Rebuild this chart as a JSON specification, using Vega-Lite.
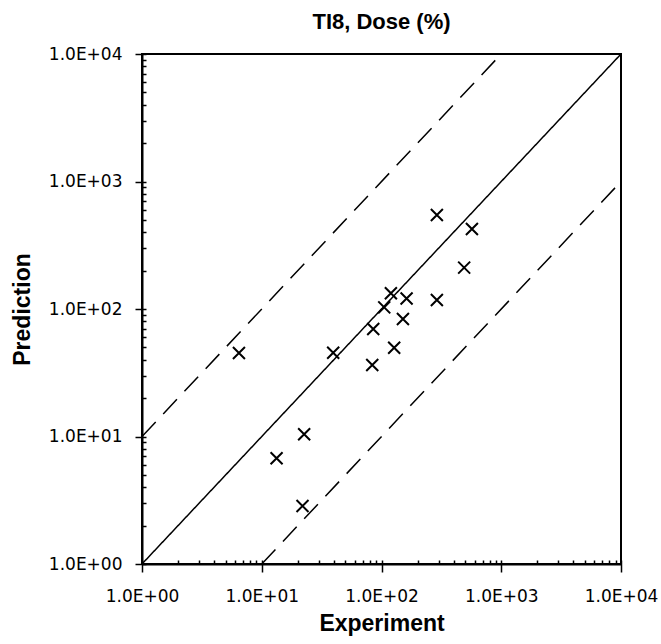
{
  "$schema": "https://vega.github.io/schema/vega-lite/v6.json",
  "width": 479,
  "height": 510,
  "autosize": {"type": "none"},
  "padding": {"left": 142, "top": 54, "right": 40, "bottom": 80},
  "title": {
    "text": "TI8, Dose (%)",
    "font": "Liberation Sans",
    "fontSize": 22,
    "fontWeight": "bold",
    "color": "black",
    "anchor": "middle",
    "offset": 11
  },
  "config": {
    "view": {"stroke": "black", "strokeWidth": 2},
    "font": "Liberation Sans",
    "axis": {"grid": false, "labelColor": "black", "titleColor": "black", "tickColor": "black", "domainColor": "black", "labelFont": "DejaVu Sans", "titleFont": "Liberation Sans"}
  },
  "datasets": {
    "lines": [
      {"series": "equal", "x": 1, "y": 1},
      {"series": "equal", "x": 10000, "y": 10000},
      {"series": "upper", "x": 1, "y": 10},
      {"series": "upper", "x": 1000, "y": 10000},
      {"series": "lower", "x": 10, "y": 1},
      {"series": "lower", "x": 10000, "y": 1000}
    ],
    "pts": [
      {"x": 6.45, "y": 45.2},
      {"x": 13.3, "y": 6.75},
      {"x": 22.6, "y": 10.4},
      {"x": 21.9, "y": 2.85},
      {"x": 39.5, "y": 45.4},
      {"x": 83.7, "y": 36.4},
      {"x": 85.3, "y": 69.7},
      {"x": 127.6, "y": 49.7},
      {"x": 105.4, "y": 103},
      {"x": 119.8, "y": 132.8},
      {"x": 151, "y": 83.5},
      {"x": 162, "y": 121},
      {"x": 290, "y": 117.7},
      {"x": 490, "y": 211},
      {"x": 290, "y": 546},
      {"x": 569, "y": 424}
    ]
  },
  "layer": [
    {
      "data": {"name": "lines"},
      "mark": {"type": "line", "color": "black", "strokeWidth": 1.5, "clip": true},
      "encoding": {
        "x": {
          "field": "x", "type": "quantitative",
          "scale": {"type": "log", "domain": [1, 10000]},
          "axis": {
            "orient": "bottom",
            "values": [1, 10, 100, 1000, 10000],
            "labelExpr": "replace(format(datum.value, '.1e'), 'e+', 'E+0')",
            "labelFlush": false,
            "labelOverlap": false,
            "labelFontSize": 17,
            "labelPadding": 16,
            "tickSize": 8,
            "tickWidth": 1.5,
            "domainWidth": 2,
            "title": "Experiment",
            "titleFontSize": 23,
            "titleFontWeight": "bold",
            "titlePadding": 8
          }
        },
        "y": {
          "field": "y", "type": "quantitative",
          "scale": {"type": "log", "domain": [1, 10000]},
          "axis": {
            "orient": "left",
            "values": [1, 10, 100, 1000, 10000],
            "labelExpr": "replace(format(datum.value, '.1e'), 'e+', 'E+0')",
            "labelFlush": false,
            "labelOverlap": false,
            "labelFontSize": 17,
            "labelPadding": 13,
            "tickSize": 7,
            "tickWidth": 1.5,
            "domainWidth": 2,
            "title": "Prediction",
            "titleFontSize": 23,
            "titleFontWeight": "bold",
            "titlePadding": 14
          }
        },
        "strokeDash": {
          "field": "series", "type": "nominal",
          "scale": {"domain": ["equal", "upper", "lower"], "range": [[1, 0], [20, 11], [20, 11]]},
          "legend": null
        }
      }
    },
    {
      "data": {"name": "pts"},
      "mark": {"type": "point", "shape": "M-1,-1L1,1M-1,1L1,-1", "size": 144, "strokeWidth": 2, "color": "black", "filled": false, "opacity": 1},
      "encoding": {
        "x": {
          "field": "x", "type": "quantitative",
          "scale": {"type": "log", "domain": [1, 10000]},
          "axis": {
            "orient": "bottom",
            "values": [1, 2, 3, 4, 5, 6, 7, 8, 9, 10, 20, 30, 40, 50, 60, 70, 80, 90, 100, 200, 300, 400, 500, 600, 700, 800, 900, 1000, 2000, 3000, 4000, 5000, 6000, 7000, 8000, 9000, 10000],
            "labels": false,
            "domain": false,
            "tickSize": -4,
            "tickWidth": 1.5,
            "title": null
          }
        },
        "y": {
          "field": "y", "type": "quantitative",
          "scale": {"type": "log", "domain": [1, 10000]},
          "axis": {
            "orient": "left",
            "values": [1, 2, 3, 4, 5, 6, 7, 8, 9, 10, 20, 30, 40, 50, 60, 70, 80, 90, 100, 200, 300, 400, 500, 600, 700, 800, 900, 1000, 2000, 3000, 4000, 5000, 6000, 7000, 8000, 9000, 10000],
            "labels": false,
            "domain": false,
            "tickSize": -4,
            "tickWidth": 1.5,
            "title": null
          }
        }
      }
    }
  ],
  "resolve": {"axis": {"x": "independent", "y": "independent"}}
}
